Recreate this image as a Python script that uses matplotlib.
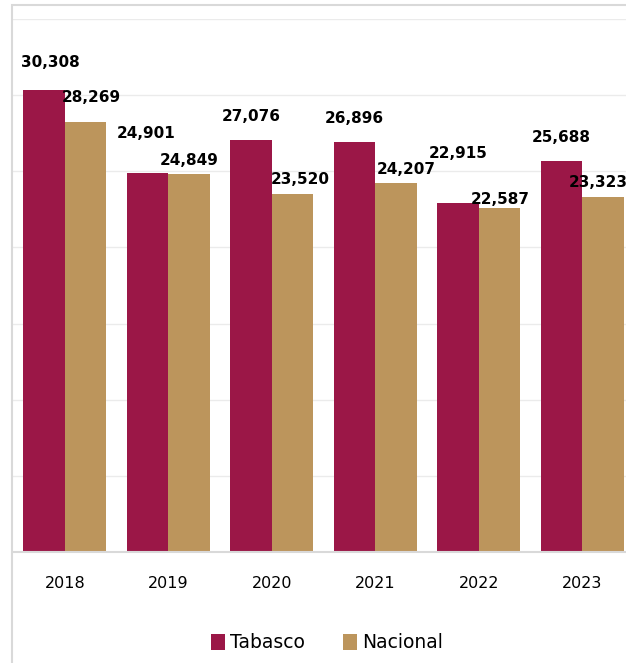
import numpy as np
import matplotlib
matplotlib.use('Agg')
import matplotlib.pyplot as plt
from matplotlib.patches import Rectangle

years = ['2018', '2019', '2020', '2021', '2022', '2023']
tabasco = [30308, 24901, 27076, 26896, 22915, 25688]
nacional = [28269, 24849, 23520, 24207, 22587, 23323]

# label offsets in pixels (dx, dy from bar top centre), as placed in the original
tab_offsets = [(6, 28), (-1, 39), (0, 23), (0, 24), (0, 50), (0, 23)]
nac_offsets = [(6, 24), (0, 13), (8, 14), (10, 14), (1, 9), (-5, 14)]

c_tab = '#9b1747'
c_nac = '#bc955c'

fig = plt.figure(figsize=(6.26, 6.63), dpi=100)
ax = fig.add_axes([13 / 626, 1 - 552 / 663, 621 / 626, 533 / 663])

x = np.arange(len(years))
w = 0.4
b1 = ax.bar(x - w / 2, tabasco, w, color=c_tab, label='Tabasco', zorder=2)
b2 = ax.bar(x + w / 2, nacional, w, color=c_nac, label='Nacional', zorder=2)

for bars, vals, offs in [(b1, tabasco, tab_offsets), (b2, nacional, nac_offsets)]:
    for r, v, (dx, dy) in zip(bars, vals, offs):
        ax.annotate(f'{v:,}', (r.get_x() + r.get_width() / 2, v),
                    xytext=(dx * 0.72, dy * 0.72), textcoords='offset points',
                    ha='center', va='center', fontsize=11, fontweight='bold',
                    color='black', zorder=3)

ax.set_xlim(-0.5, 5.5)
ax.set_ylim(0, 35000)
ax.set_yticks(np.arange(0, 35001, 5000))
ax.yaxis.grid(True, color='#ebebeb', linewidth=1, zorder=0)
ax.set_yticklabels([])
ax.tick_params(axis='y', length=0)
ax.set_xticks(x)
ax.set_xticklabels(years, fontsize=11.5)
ax.tick_params(axis='x', length=0, pad=17)
for s in ['top', 'right', 'left']:
    ax.spines[s].set_visible(False)
ax.spines['bottom'].set_color('#d9d9d9')
ax.spines['bottom'].set_linewidth(1.5)
ax.spines['bottom'].set_zorder(3)

# outer frame of the original
fig.patches.append(Rectangle((12 / 626, -0.1), 1.2, 1 - 5 / 663 + 0.1,
                             transform=fig.transFigure, fill=False,
                             edgecolor='#d9d9d9', linewidth=1.5))

fig.legend(handles=[b1, b2], labels=['Tabasco', 'Nacional'], loc='center',
           bbox_to_anchor=(327 / 626, 1 - 643 / 663), ncol=2, frameon=False,
           fontsize=13.5, handlelength=0.75, handleheight=0.9, handletextpad=0.3,
           columnspacing=2.0)

fig.savefig('out.png', dpi=100)
